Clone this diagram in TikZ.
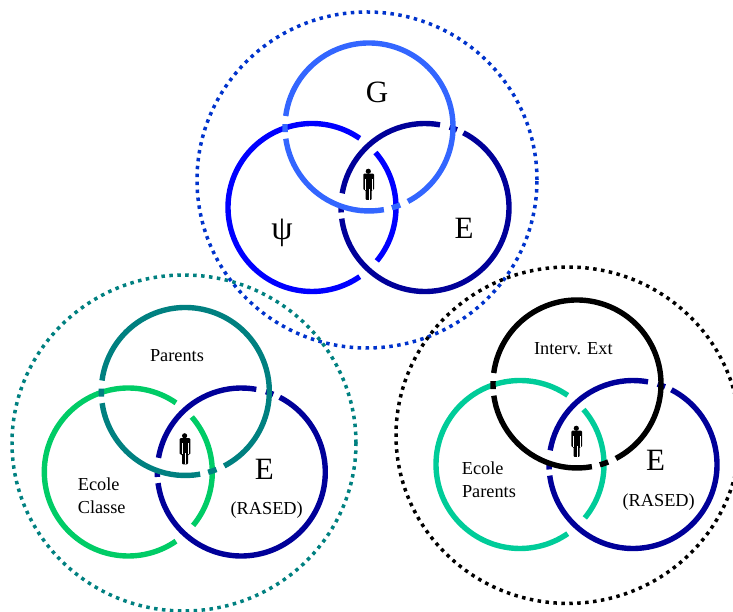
\documentclass[tikz,border=0pt]{standalone}
\usepackage{fontspec}
\setmainfont{Liberation Serif}
\definecolor{cG}{HTML}{3366FF}
\definecolor{cPsi}{HTML}{0000FF}
\definecolor{cE}{HTML}{000099}
\definecolor{cOut}{HTML}{0033CC}
\definecolor{cTeal}{HTML}{008080}
\definecolor{cGreenA}{HTML}{00CC66}
\definecolor{cGreenB}{HTML}{00CC99}
\tikzset{
  ringline/.style={line width=5.4pt,line cap=butt},
  dotring/.style={line width=3.5pt,dash pattern=on 3.5pt off 4.45pt},
  lab/.style={inner sep=0pt,text=black,font=\fontsize{18.3}{20}\selectfont},
  biglab/.style={inner sep=0pt,text=black,font=\fontsize{31}{32}\selectfont},
}
% centre x, centre y, start, end, colour
\newcommand{\ringarc}[5]{\draw[ringline,#5] ({#1+84*cos(#3)},{#2+84*sin(#3)}) arc[start angle=#3,end angle=#4,radius=84];}
\newcommand{\trio}[4]{%
\begin{scope}[shift={(#1,#2)}]
  % left circle
  \ringarc{312}{404.5}{-39.5}{40.9}{#4}
  \ringarc{312}{404.5}{55.4}{304.6}{#4}
  % right circle (E)
  \ringarc{425}{404.5}{67.6}{73}{cE}
  \ringarc{425}{404.5}{178}{183.4}{cE}
  \ringarc{425}{404.5}{187.6}{422.8}{cE}
  \ringarc{425}{404.5}{79.7}{170.3}{cE}
  % top circle
  \ringarc{369}{485}{-62.4}{172.5}{#3}
  \ringarc{369}{485}{188}{280.2}{#3}
  \ringarc{369}{485}{178}{183.5}{#3}
  \ringarc{369}{485}{-74.2}{-68.2}{#3}
  % person
  \fill[black] (368.3,440.7) circle (2.6);
  \fill[black,rounded corners=1pt] (363.3,438.3) -- (374,438.3) -- (374,422) -- (371.7,422) -- (371.7,412) -- (365.7,412) -- (365.7,422) -- (363.3,422) -- cycle;
  \draw[white,line width=0.35pt] (365.6,433) -- (365.6,422) (371.8,433) -- (371.8,422) (368.7,423) -- (368.7,412);
\end{scope}}
\begin{document}
\begin{tikzpicture}[x=1pt,y=1pt]
\useasboundingbox (0,0) rectangle (733,612);
\draw[dotring,cOut] (367,432) ellipse [x radius=170,y radius=168];
\draw[dotring,cTeal] (184,169) ellipse [x radius=172,y radius=168];
\draw[dotring,black] (568,176.8) ellipse [x radius=172,y radius=168.2];
\trio{0}{0}{cG}{cPsi}
\trio{-183.7}{-264.5}{cTeal}{cGreenA}
\trio{208}{-257}{black}{cGreenB}
\node[biglab] (g) at (377,520) {G};
\node[biglab,font=\fontsize{34}{36}\selectfont] (psi) at (282,379) {ψ};
\node[biglab] (e1) at (464,384) {E};
\node[lab] (parents) at (177,256) {Parents};
\node[lab] (ecole1) at (98.7,128) {Ecole};
\node[lab] (classe) at (101.7,105) {Classe};
\node[biglab] (e2) at (264.3,143) {E};
\node[lab] (rased1) at (266.7,102) {(RASED)};
\node[lab] (interv) at (573.3,263.7) {Interv. Ext};
\node[lab] (ecole2) at (482.7,143.7) {Ecole};
\node[lab] (parents2) at (489,120.7) {Parents};
\node[biglab] (e3) at (655.7,151.3) {E};
\node[lab] (rased2) at (658.7,109.7) {(RASED)};
\end{tikzpicture}
\end{document}
